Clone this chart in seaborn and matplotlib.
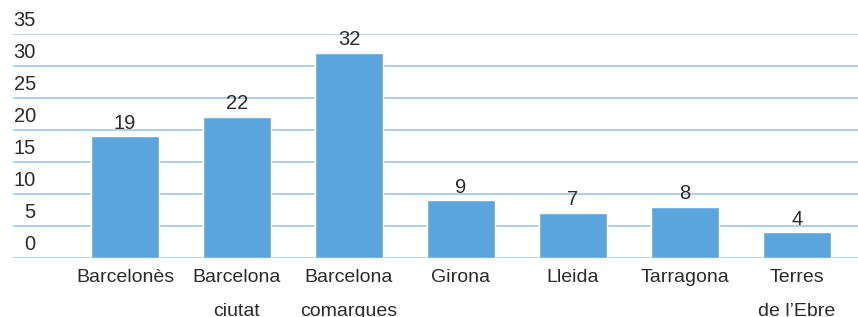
import seaborn as sns
import matplotlib.pyplot as plt
import pandas as pd

# Dades
regions = ["Barcelonès", "Barcelona\nciutat", "Barcelona\ncomarques", "Girona",
           "Lleida", "Tarragona", "Terres\nde l\u2019Ebre"]
values = [19, 22, 32, 9, 7, 8, 4]
y_ticks = [0, 5, 10, 15, 20, 25, 30, 35]

df = pd.DataFrame({"Regio": regions, "Valor": values})

sns.set_style("white")
plt.rcParams["font.family"] = ["Liberation Sans", "DejaVu Sans"]

fig = plt.figure(figsize=(8.58, 3.17), dpi=100)
ax = fig.add_axes([13 / 858, 59 / 317, 845 / 858, 224 / 317])

sns.barplot(data=df, x="Regio", y="Valor", color="#5aa6dc", width=0.607,
            saturation=1, ax=ax, zorder=3)

ax.set_xlim(-1.0, 6.545)
ax.set_ylim(0, 35)

# Línies de graella
for t in y_ticks:
    ax.axhline(t, color="#a9cced", lw=1.3, zorder=1)
    ax.text(0.027, t + 0.55, str(t), transform=ax.get_yaxis_transform(),
            ha="right", va="bottom", fontsize=14.5, color="#2b2b2b", clip_on=False)

# Etiquetes de valor
for i, v in enumerate(values):
    ax.text(i, v + 0.6, str(v), ha="center", va="bottom", fontsize=14.5, color="#2b2b2b")

ax.set_yticks([])
ax.set_xlabel("")
ax.set_ylabel("")
ax.tick_params(axis="x", length=0, pad=8)
for lbl in ax.get_xticklabels():
    lbl.set_fontsize(14)
    lbl.set_color("#2b2b2b")
    lbl.set_linespacing(2.3)
    lbl.set_va("top")

for s in ax.spines.values():
    s.set_visible(False)

fig.savefig("out.png", dpi=100)
